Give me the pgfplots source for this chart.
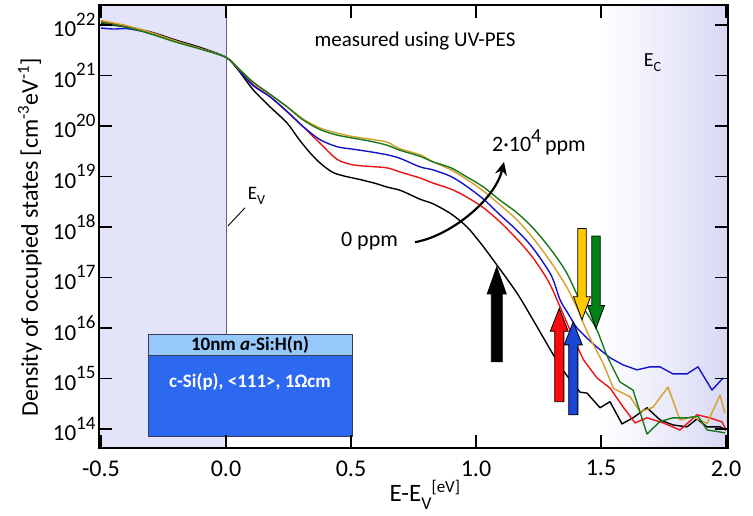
\documentclass[border=0pt]{standalone}
\usepackage{fontspec}
\setmainfont{Carlito}
\usepackage{pgfplots}
\pgfplotsset{compat=1.18}
\usetikzlibrary{arrows.meta}
\definecolor{cred}{RGB}{235,20,20}
\definecolor{cblue}{RGB}{20,20,205}
\definecolor{cgold}{RGB}{212,160,40}
\definecolor{cgreen}{RGB}{25,120,25}
\definecolor{shadeL}{RGB}{227,227,249}
\definecolor{shadeR}{RGB}{216,216,245}
\definecolor{arrred}{RGB}{250,10,10}
\definecolor{arrblue}{RGB}{25,70,215}
\definecolor{arryellow}{RGB}{255,200,0}
\definecolor{arrgreen}{RGB}{0,130,20}
\definecolor{boxlight}{RGB}{150,200,250}
\definecolor{boxdark}{RGB}{45,105,240}
\newcommand{\tp}[1]{10\raisebox{0.5em}{\fontsize{19}{19}\selectfont #1}}
% up arrow: x, base, tip, colour, half shaft, half head, head length
\newcommand{\arrup}[7]{\filldraw[fill=#4,draw=black,line width=0.8pt]
 ([xshift=-#5]axis cs:#1,#2) -- ([xshift=-#5,yshift=-#7]axis cs:#1,#3) -- ([xshift=-#6,yshift=-#7]axis cs:#1,#3) -- (axis cs:#1,#3)
 -- ([xshift=#6,yshift=-#7]axis cs:#1,#3) -- ([xshift=#5,yshift=-#7]axis cs:#1,#3) -- ([xshift=#5]axis cs:#1,#2) -- cycle;}
\newcommand{\arrdown}[7]{\filldraw[fill=#4,draw=black,line width=0.8pt]
 ([xshift=-#5]axis cs:#1,#2) -- ([xshift=-#5,yshift=#7]axis cs:#1,#3) -- ([xshift=-#6,yshift=#7]axis cs:#1,#3) -- (axis cs:#1,#3)
 -- ([xshift=#6,yshift=#7]axis cs:#1,#3) -- ([xshift=#5,yshift=#7]axis cs:#1,#3) -- ([xshift=#5]axis cs:#1,#2) -- cycle;}
\begin{document}
\begin{tikzpicture}
\path[use as bounding box] (-99pt,-68pt) rectangle (654pt,448pt);
\begin{axis}[
  at={(0pt,0pt)}, anchor=south west,
  scale only axis, width=629pt, height=443pt,
  xmin=-0.508, xmax=2.008,
  ymode=log, ymin=4.2e13, ymax=2.49e22,
  xtick={-0.5,0,0.5,1,1.5,2},
  xticklabels={-0.5,0.0,0.5,1.0,1.5,2.0},
  ytick={1e14,1e15,1e16,1e17,1e18,1e19,1e20,1e21,1e22},
  yticklabels={\tp{14},\tp{15},\tp{16},\tp{17},\tp{18},\tp{19},\tp{20},\tp{21},\tp{22}},
  yminorticks=false, xminorticks=false,
  xtick pos=both, ytick pos=both,
  xticklabel pos=lower, yticklabel pos=left,
  major tick length=13pt,
  major tick style={black, line width=1.4pt},
  axis line style={line width=1.5pt},
  axis on top,
  xticklabel style={font=\fontsize{24}{24}\selectfont, yshift=-9pt},
  yticklabel style={font=\fontsize{23}{23}\selectfont},
  xlabel={E-E\raisebox{-0.3em}{\fontsize{18}{18}\selectfont V}\raisebox{0.35em}{\fontsize{17}{17}\selectfont [eV]}},
  xlabel style={font=\fontsize{25}{25}\selectfont, at={(axis description cs:0.518,-0.106)}, anchor=center},
  ylabel={Density of occupied states [cm\textsuperscript{-3}eV\textsuperscript{-1}]},
  ylabel style={font=\fontsize{24}{24}\selectfont, at={(axis description cs:-0.11,0.476)}, anchor=center, rotate=0},
  every axis plot/.append style={line width=1.4pt, line join=round},
]
% backgrounds
\fill[shadeL] (axis cs:-0.508,4.2e13) rectangle (axis cs:0,2.49e22);
\shade[left color=white, right color=shadeR] (axis cs:1.50,4.2e13) rectangle (axis cs:2.008,2.49e22);
\draw[color={rgb,255:red,100;green,100;blue,130}, line width=0.4pt] (axis cs:0,4.2e13) -- (axis cs:0,2.49e22);

% 0 ppm (black)
\addplot[black, smooth, tension=0.5] coordinates {
(-0.50,1.07e22) (-0.40,9.12e21) (-0.30,7.24e21) (-0.20,5.01e21) (-0.10,3.55e21)
(0.00,2.29e21) (0.05,1.26e21) (0.108,5.25e20) (0.176,2.40e20) (0.244,1.15e20)
(0.29,5.62e19) (0.336,2.95e19) (0.38,1.78e19) (0.428,1.20e19) (0.48,1.00e19)
(0.536,8.71e18) (0.60,7.24e18) (0.644,6.17e18) (0.70,5.25e18) (0.776,3.55e18)
(0.828,2.88e18) (0.90,1.82e18) (0.964,1.00e18) (1.02,4.68e17) (1.083,1.78e17)
(1.164,4.90e16) (1.228,1.45e16) (1.308,3.02e15) (1.35,1.41e15) (1.388,7.94e14)
};
\addplot[black] coordinates {
(1.388,7.94e14) (1.416,5.37e14) (1.444,5.13e14) (1.496,2.63e14) (1.536,3.47e14) (1.584,1.26e14)
(1.628,1.66e14) (1.684,2.63e14) (1.736,1.51e14) (1.788,1.20e14) (1.844,1.10e14)
(1.884,1.58e14) (1.924,1.10e14) (1.976,1.10e14) (2.00,9.55e13)
};
% red
\addplot[cred, smooth, tension=0.5] coordinates {
(-0.50,1.17e22) (-0.40,9.55e21) (-0.30,7.08e21) (-0.20,4.79e21) (-0.10,3.39e21)
(0.00,2.29e21) (0.05,1.32e21) (0.108,6.61e20) (0.176,3.80e20) (0.244,1.91e20)
(0.308,9.77e19) (0.376,4.57e19) (0.444,2.19e19) (0.508,1.70e19) (0.576,1.58e19)
(0.644,1.48e19) (0.696,1.23e19) (0.776,9.33e18) (0.828,7.41e18) (0.90,5.62e18)
(0.964,3.89e18) (1.03,2.40e18) (1.096,1.26e18) (1.164,5.75e17) (1.228,2.45e17)
(1.29,8.32e16) (1.336,2.63e16) (1.388,6.61e15) (1.43,2.34e15)
};
\addplot[cred] coordinates {
(1.43,2.34e15) (1.484,1.02e15) (1.536,6.46e14) (1.588,2.75e14) (1.636,1.32e14) (1.684,1.66e14)
(1.748,1.32e14) (1.816,9.55e13) (1.884,1.91e14) (1.936,1.66e14) (1.984,1.38e14)
(2.00,9.55e13)
};
% blue
\addplot[cblue, smooth, tension=0.5] coordinates {
(-0.50,8.71e21) (-0.45,8.32e21) (-0.40,8.51e21) (-0.36,7.94e21) (-0.30,6.92e21)
(-0.20,4.79e21) (-0.10,3.39e21) (0.00,2.29e21) (0.05,1.32e21) (0.108,6.31e20)
(0.176,3.80e20) (0.244,1.95e20) (0.308,9.77e19) (0.376,5.37e19) (0.444,3.89e19)
(0.508,3.47e19) (0.576,3.09e19) (0.644,2.69e19) (0.696,2.29e19) (0.776,1.55e19)
(0.828,1.35e19) (0.90,1.00e19) (0.964,6.31e18) (1.03,3.55e18) (1.096,1.74e18)
(1.164,8.51e17) (1.228,3.80e17) (1.30,1.12e17) (1.336,3.63e16) (1.364,2.09e16)
(1.388,1.32e16) (1.404,1.00e16) (1.444,6.31e15) (1.484,4.17e15) (1.536,2.57e15)
};
\addplot[cblue] coordinates {
(1.536,2.57e15) (1.588,1.86e15) (1.644,1.48e15) (1.696,1.70e15) (1.736,1.70e15) (1.788,1.23e15)
(1.844,1.23e15) (1.888,1.70e15) (1.944,5.89e14) (1.988,1.02e15)
};
% gold
\addplot[cgold, smooth, tension=0.5] coordinates {
(-0.50,1.23e22) (-0.40,9.77e21) (-0.30,7.08e21) (-0.20,4.79e21) (-0.10,3.39e21)
(0.00,2.29e21) (0.05,1.38e21) (0.108,7.41e20) (0.176,4.17e20) (0.244,2.40e20)
(0.308,1.38e20) (0.376,9.12e19) (0.444,7.24e19) (0.508,6.17e19) (0.576,5.50e19)
(0.644,4.79e19) (0.696,3.55e19) (0.776,2.69e19) (0.828,1.95e19) (0.90,1.35e19)
(0.964,8.71e18) (1.03,5.13e18) (1.096,2.75e18) (1.164,1.38e18) (1.228,6.03e17)
(1.30,2.00e17) (1.364,6.31e16) (1.404,2.51e16) (1.424,1.45e16) (1.456,6.31e15)
(1.508,2.04e15)
};
\addplot[cgold] coordinates {
(1.508,2.04e15) (1.55,6.31e14) (1.616,4.37e14) (1.656,2.19e14) (1.708,2.69e14)
(1.768,6.76e14) (1.816,1.51e14) (1.868,1.74e14) (1.924,1.29e14) (1.976,4.68e14)
(1.996,2.04e14)
};
% green
\addplot[cgreen, smooth, tension=0.5] coordinates {
(-0.50,1.12e22) (-0.40,9.12e21) (-0.30,6.61e21) (-0.20,4.57e21) (-0.10,3.31e21)
(0.00,2.29e21) (0.05,1.38e21) (0.108,7.41e20) (0.176,4.27e20) (0.244,2.40e20)
(0.308,1.32e20) (0.376,8.51e19) (0.444,6.61e19) (0.508,5.75e19) (0.576,5.01e19)
(0.644,4.17e19) (0.696,3.31e19) (0.776,2.51e19) (0.828,1.95e19) (0.90,1.48e19)
(0.964,9.77e18) (1.03,6.17e18) (1.096,3.39e18) (1.164,1.91e18) (1.228,9.55e17)
(1.30,3.55e17) (1.364,1.20e17) (1.424,2.82e16) (1.48,1.00e16) (1.524,2.82e15)
(1.576,8.51e14)
};
\addplot[cgreen] coordinates {
(1.576,8.51e14) (1.628,5.89e14) (1.684,7.94e13) (1.736,1.41e14) (1.788,1.66e14)
(1.844,1.66e14) (1.888,1.78e14) (1.924,9.55e13) (1.976,8.71e13) (1.996,8.32e13)
};

% onset arrows
\arrup{1.083}{2.14e15}{1.62e17}{black}{5.5pt}{9.5pt}{27pt}
\arrup{1.333}{3.47e14}{2.45e16}{arrred}{4.6pt}{9pt}{23pt}
\arrup{1.389}{1.91e14}{1.32e16}{arrblue}{4.6pt}{9pt}{23pt}
\arrdown{1.424}{9.33e17}{1.45e16}{arryellow}{4.2pt}{8.5pt}{23pt}
\arrdown{1.480}{6.61e17}{9.77e15}{arrgreen}{4.2pt}{8.5pt}{23pt}

% curved arrow
\draw[line width=2.2pt, -{Stealth[length=13pt,width=12pt]}]
  (axis cs:0.756,5.0e17) .. controls (axis cs:0.896,6.6e17) and (axis cs:1.076,3.4e18) .. (axis cs:1.112,1.94e19);

% texts
\node[font=\fontsize{22}{22}\selectfont] at (axis cs:0.574,5.25e17) {0 ppm};
\node[font=\fontsize{22}{22}\selectfont, anchor=base west, inner sep=0pt] at (axis cs:1.064,3.06e19) {2·10\raisebox{0.42em}{\fontsize{20}{20}\selectfont 4}\,ppm};
\node[font=\fontsize{21}{21}\selectfont] at (axis cs:0.756,4.82e21) {measured using UV-PES};
\node[font=\fontsize{19}{19}\selectfont] at (axis cs:0.122,4.1e18) {E\raisebox{-0.25em}{\fontsize{14}{14}\selectfont V}};
\draw[black, line width=0.9pt] (axis cs:0.008,1.05e18) -- (axis cs:0.076,2.4e18);
\node[font=\fontsize{20}{20}\selectfont] at (axis cs:1.706,1.78e21) {E\raisebox{-0.25em}{\fontsize{14}{14}\selectfont C}};

% inset
\filldraw[fill=boxdark, draw={rgb,255:red,60;green,60;blue,90}, line width=0.7pt] (axis cs:-0.312,7.2e13) rectangle (axis cs:0.504,2.92e15);
\filldraw[fill=boxlight, draw={rgb,255:red,60;green,60;blue,90}, line width=0.7pt] (axis cs:-0.312,2.92e15) rectangle (axis cs:0.504,7.59e15);
\node[font=\fontsize{19}{19}\selectfont\bfseries] at (axis cs:0.096,4.6e15) {10nm \textit{a}-Si:H(n)};
\node[font=\fontsize{19}{19}\selectfont\bfseries, text=white] at (axis cs:0.096,8.5e14) {c-Si(p), <111>, 1Ωcm};
\end{axis}
\end{tikzpicture}
\end{document}
